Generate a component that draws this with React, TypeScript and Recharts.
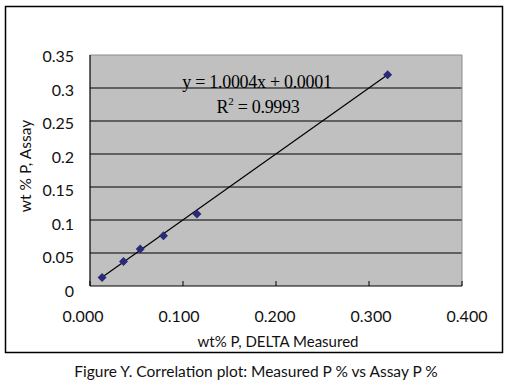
import React from "react";
import {
  ScatterChart,
  Scatter,
  XAxis,
  YAxis,
  CartesianGrid,
  ReferenceLine,
} from "recharts";

const measured = [0.013, 0.036, 0.054, 0.079, 0.115, 0.32];
const assay = [0.013, 0.037, 0.056, 0.076, 0.109, 0.32];
const xTicks = [0, 0.1, 0.2, 0.3, 0.4];
const yTicks = [0, 0.05, 0.1, 0.15, 0.2, 0.25, 0.3, 0.35];
const gridValues = [0.05, 0.1, 0.15, 0.2, 0.25, 0.3];
const trendStart = { x: 0.013, y: 0.0131 };
const trendEnd = { x: 0.32, y: 0.3202 };
const equationText = "y = 1.0004x + 0.0001";
const r2Value = "0.9993";
const xTitle = "wt% P, DELTA Measured";
const yTitle = "wt % P, Assay";
const caption = "Figure Y. Correlation plot: Measured P % vs Assay P %";

const points = measured.map((m, i) => ({ x: m, y: assay[i] }));

const FONT = "Lato, 'Noto Sans', sans-serif";

const Diamond = (props: any) => {
  const { cx, cy } = props;
  const r = 4.5;
  return (
    <polygon
      points={`${cx},${cy - r} ${cx + r},${cy} ${cx},${cy + r} ${cx - r},${cy}`}
      fill="#2B2A78"
    />
  );
};

const XTick = (props: any) => {
  const { x, y, payload } = props;
  const dx = -7 + ((x - 90) / 372) * 12;
  return (
    <text
      x={x + dx}
      y={y + 41}
      textAnchor="middle"
      fontFamily={FONT}
      fontSize={16}
      fill="#111"
    >
      {Number(payload.value).toFixed(3)}
    </text>
  );
};

const YTick = (props: any) => {
  const { x, y, payload } = props;
  const off = 7 + ((y - 55) / 231) * 4;
  return (
    <text
      x={x - 16}
      y={y + off}
      textAnchor="end"
      fontFamily={FONT}
      fontSize={16}
      fill="#111"
    >
      {String(payload.value)}
    </text>
  );
};

export default function App() {
  return (
    <div
      style={{
        position: "absolute",
        left: 0,
        top: 0,
        width: 510,
        height: 392,
        background: "#fff",
      }}
    >
      <ScatterChart
        width={510}
        height={392}
        margin={{ top: 55, right: 48, left: 30, bottom: 76 }}
      >
        <CartesianGrid
          horizontal={true}
          vertical={false}
          horizontalValues={gridValues}
          stroke="#000"
          strokeWidth={1}
          fill="#C0C0C0"
          fillOpacity={1}
        />
        <XAxis
          type="number"
          dataKey="x"
          domain={[0, 0.4]}
          ticks={xTicks}
          interval={0}
          height={30}
          axisLine={{ stroke: "#000", strokeWidth: 1.2 }}
          tickLine={{ stroke: "#000" }}
          tickSize={-5}
          tickMargin={0}
          tick={<XTick />}
        />
        <YAxis
          type="number"
          dataKey="y"
          domain={[0, 0.35]}
          ticks={yTicks}
          interval={0}
          width={60}
          axisLine={{ stroke: "#000", strokeWidth: 1.2 }}
          tickLine={false}
          tickSize={0}
          tickMargin={0}
          tick={<YTick />}
        />
        <ReferenceLine y={0.35} stroke="#8c8c8c" strokeWidth={1} />
        <ReferenceLine x={0.4} stroke="#8c8c8c" strokeWidth={1} />
        <ReferenceLine
          segment={[trendStart, trendEnd]}
          stroke="#000"
          strokeWidth={1.2}
        />
        <Scatter
          data={points}
          shape={<Diamond />}
          isAnimationActive={false}
        />
      </ScatterChart>
      <svg
        width={510}
        height={392}
        style={{ position: "absolute", left: 0, top: 0, pointerEvents: "none" }}
      >
        <rect
          x={5.5}
          y={6.5}
          width={497}
          height={346}
          fill="none"
          stroke="#000"
          strokeWidth={1.5}
        />
        <text
          x={257}
          y={88}
          textAnchor="middle"
          fontFamily="'Liberation Serif', 'DejaVu Serif', serif"
          fontSize={18}
          letterSpacing={-0.3}
          fill="#000"
        >
          {equationText}
        </text>
        <text
          x={258}
          y={113}
          textAnchor="middle"
          fontFamily="'Liberation Serif', 'DejaVu Serif', serif"
          fontSize={18}
          letterSpacing={-0.3}
          fill="#000"
        >
          R
          <tspan fontSize={11} dy={-8}>
            2
          </tspan>
          <tspan dy={8}>{" = " + r2Value}</tspan>
        </text>
        <text
          x={278}
          y={347}
          textAnchor="middle"
          fontFamily={FONT}
          fontSize={15}
          fill="#111"
        >
          {xTitle}
        </text>
        <text
          x={31}
          y={166}
          textAnchor="middle"
          fontFamily={FONT}
          fontSize={15.5}
          fill="#111"
          transform="rotate(-90 31 166)"
        >
          {yTitle}
        </text>
        <text
          x={256}
          y={377}
          textAnchor="middle"
          fontFamily={FONT}
          fontSize={15.5}
          fill="#111"
        >
          {caption}
        </text>
      </svg>
    </div>
  );
}
